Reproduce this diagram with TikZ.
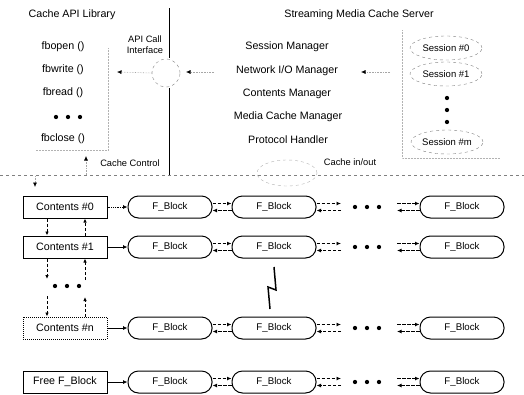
\documentclass[tikz,border=0pt]{standalone}
\usepackage{fontspec}
\setmainfont{Liberation Sans}
\usetikzlibrary{arrows.meta,shapes.geometric}
\begin{document}
\begin{tikzpicture}[x=1pt,y=-1pt,
  lbl/.style={inner sep=0pt,font=\fontsize{10.7}{12}\selectfont},
  sml/.style={inner sep=0pt,font=\fontsize{9.3}{11}\selectfont},
  cbox/.style={draw,line width=1pt,minimum width=84pt,minimum height=22pt,inner sep=0pt,font=\fontsize{10.7}{12}\selectfont},
  fblk/.style={draw,line width=1pt,rounded corners=10.5pt,minimum width=84pt,minimum height=22pt,inner sep=0pt,font=\fontsize{9.7}{11}\selectfont},
  sess/.style={draw,gray,dashed,ellipse,minimum width=72pt,minimum height=24pt,inner sep=0pt,text=black,font=\fontsize{9.5}{11}\selectfont},
  faint/.style={gray!60,densely dotted,line width=0.5pt},
  farrow/.style={gray!70,densely dotted,line width=0.6pt,-{Latex[length=4.5pt,width=4pt,color=black]}},
  vlink/.style={densely dashed,line width=0.9pt,-{Latex[length=4pt,width=3.5pt]}},
  dlink/.style={dashed,dash pattern=on 3.5pt off 1.5pt,line width=1.1pt,-{Latex[length=4.5pt,width=4pt]}},
  hlink/.style={line width=0.8pt,-{Latex[length=4.5pt,width=4pt]}},
  bigdot/.style={circle,fill,inner sep=0pt,minimum size=4.3pt},
]
\useasboundingbox (0,0) rectangle (524,394);

% ---------- top left: library ----------
\node[lbl] (libt) at (72,15) {Cache API Library};
\node[lbl] (fopen) at (63,47) {fbopen ()};
\node[lbl] (fwrite) at (63,70) {fbwrite ()};
\node[lbl] (fread) at (63,93) {fbread ()};
\node[bigdot] (ld1) at (56,117) {};
\node[bigdot] (ld2) at (68,117) {};
\node[bigdot] (ld3) at (80,117) {};
\node[lbl] (fclose) at (63,139) {fbclose ()};
\coordinate (lb1) at (108,48);
\coordinate (lb2) at (108,150);
\coordinate (lb3) at (35,150);
\draw[faint] (lb1) -- (lb2) -- (lb3);

% ---------- API interface ----------
\node[sml,align=center] (api) at (145,45) {API Call\\Interface};
\node[circle,draw,gray,dashed,minimum size=28pt,inner sep=0pt] (ifc) at (166,73) {};
\coordinate (vtop) at (169,8);
\coordinate (vmid1) at (169,58);
\coordinate (vmid2) at (169,88);
\coordinate (vbot) at (169,175);
\draw[line width=0.8pt] (vtop) -- (vmid1);
\draw[line width=0.8pt] (vmid2) -- (vbot);
\coordinate (fwa) at (117,72);
\draw[farrow] (ifc.west) -- (fwa);

% ---------- server ----------
\node[lbl] (srvt) at (359,15) {Streaming Media Cache Server};
\node[lbl] (sm) at (287,47) {Session Manager};
\node[lbl] (nio) at (287,71) {Network I/O Manager};
\node[lbl] (cm) at (287,94) {Contents Manager};
\node[lbl] (mcm) at (288,117) {Media Cache Manager};
\node[lbl] (ph) at (288,140) {Protocol Handler};
\coordinate (na1) at (214,72);
\coordinate (na2) at (186,72);
\draw[farrow] (na1) -- (na2);
\coordinate (sa1) at (390,72);
\coordinate (sa2) at (361,72);
\draw[farrow] (sa1) -- (sa2);

% ---------- sessions ----------
\coordinate (sb1) at (402,30);
\coordinate (sb2) at (402,158);
\coordinate (sb3) at (500,158);
\draw[faint] (sb1) -- (sb2) -- (sb3);
\node[sess] (s0) at (446,48) {Session \#0};
\node[sess] (s1) at (446,74) {Session \#1};
\node[bigdot] (sd1) at (447,98) {};
\node[bigdot] (sd2) at (447,110) {};
\node[bigdot] (sd3) at (447,122) {};
\node[sess] (sm2) at (447,142) {Session \#m};

% ---------- cache control / cache in-out ----------
\node[sml] (cc) at (130,163) {Cache Control};
\coordinate (cca) at (86,175);
\coordinate (ccb) at (86,156);
\draw[farrow] (cca) -- (ccb);
\node[ellipse,draw,gray!60,dashed,minimum width=60pt,minimum height=26pt,inner sep=0pt] (cioe) at (287,173) {};
\node[sml] (cio) at (350,162) {Cache in/out};

% separator
\coordinate (sepL) at (0,175);
\coordinate (sepR) at (524,175);
\draw[gray,dashed,line width=0.6pt] (sepL) -- (sepR);
\coordinate (da1) at (35,176);
\coordinate (da2) at (35,187);
\draw[farrow] (da1) -- (da2);

% ---------- contents ----------
\node[cbox] (c0) at (65,207) {Contents \#0};
\node[cbox] (c1) at (65,247) {Contents \#1};
\node[cbox,densely dotted] (cn) at (65,328) {Contents \#n};
\node[cbox] (cf) at (65,382) {Free F\_Block};
\node[bigdot] (cd1) at (55,286) {};
\node[bigdot] (cd2) at (67,286) {};
\node[bigdot] (cd3) at (79,286) {};

\draw[vlink] ([xshift=-18pt]c0.south) -- ([xshift=-18pt]c1.north);
\draw[vlink] ([xshift=20pt]c1.north) -- ([xshift=20pt]c0.south);
\coordinate (ca1) at (47,279);
\coordinate (ca2) at (85,280);
\coordinate (ca3) at (47,296);
\coordinate (ca4) at (85,297);
\draw[vlink] ([xshift=-18pt]c1.south) -- (ca1);
\draw[vlink] (ca2) -- ([xshift=20pt]c1.south);
\draw[vlink] (ca3) -- ([xshift=-18pt]cn.north);
\draw[vlink] ([xshift=20pt]cn.north) -- (ca4);

% ---------- F_Block rows ----------
\foreach \r/\y in {0/207,1/247,n/328,f/382}{
  \node[fblk] (a\r) at (170,\y) {F\_Block};
  \node[fblk] (b\r) at (274,\y) {F\_Block};
  \node[fblk] (z\r) at (462,\y) {F\_Block};
  \coordinate (p\r) at (341,\y);
  \coordinate (q\r) at (397,\y);
  \node[bigdot] (e1\r) at (355,\y) {};
  \node[bigdot] (e2\r) at (367,\y) {};
  \node[bigdot] (e3\r) at (379,\y) {};
  \draw[dlink] ([yshift=-3.5pt]b\r.west) -- ([yshift=-3.5pt]a\r.east);
  \draw[dlink] ([yshift=3.5pt]a\r.east) -- ([yshift=3.5pt]b\r.west);
  \draw[dlink] ([yshift=-3.5pt]p\r) -- ([yshift=-3.5pt]b\r.east);
  \draw[dlink] ([yshift=3.5pt]b\r.east) -- ([yshift=3.5pt]p\r);
  \draw[dlink] ([yshift=-3.5pt]z\r.west) -- ([yshift=-3.5pt]q\r);
  \draw[dlink] ([yshift=3.5pt]q\r) -- ([yshift=3.5pt]z\r.west);
}
\draw[hlink,densely dotted] (c0) -- (a0);
\draw[hlink] (c1) -- (a1);
\draw[hlink] (cn) -- (an);
\draw[hlink] (cf) -- (af);

% lightning
\draw[line width=1.5pt,line join=miter] (274,267) -- (276,290) -- (268,287) -- (270,309);

\end{tikzpicture}
\end{document}
